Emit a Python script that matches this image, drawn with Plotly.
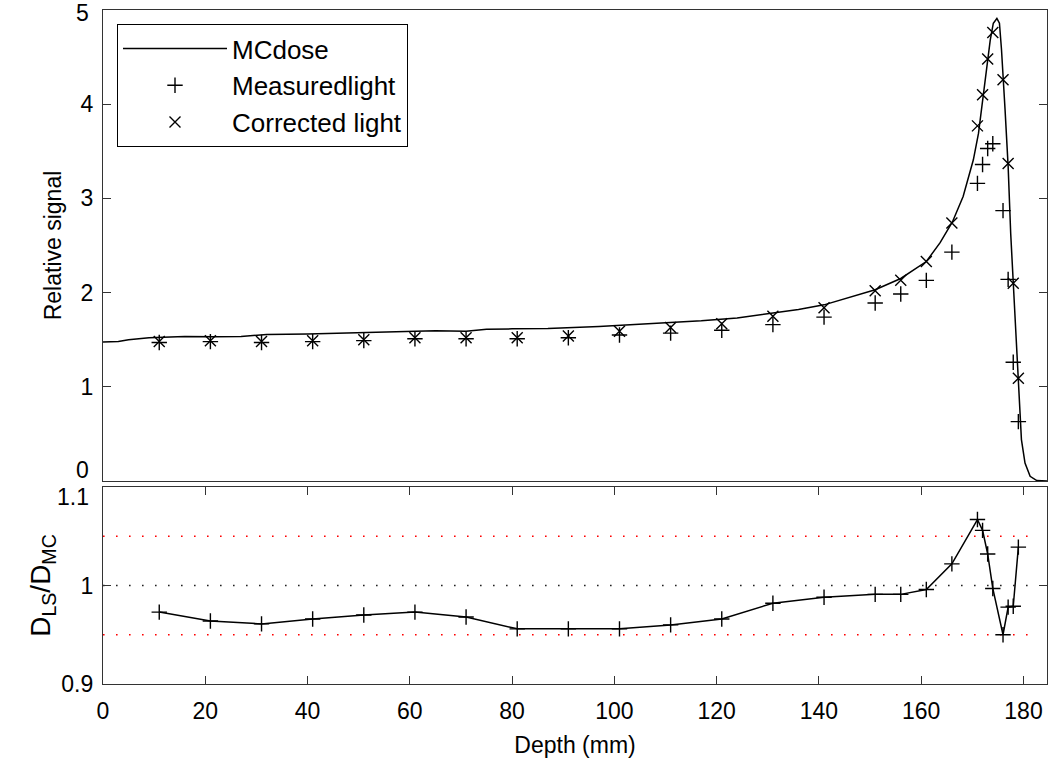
import plotly.graph_objects as go

# ---- data ----
mc_depth = [0, 3, 5, 9, 16, 22, 27, 32, 40, 45, 52, 58, 65, 71, 75, 80, 87, 97, 107, 117,
            124, 131, 136, 141, 146, 151, 156, 161, 163.7, 166.1, 168.2, 170.2, 171.2, 172.0,
            172.8, 173.5, 174.1, 174.8, 175.3, 175.7, 176.4, 177.0, 177.5, 178.0, 178.7, 179.2,
            179.6, 180.3, 181.3, 182.6, 184.6]
mc_dose = [1.476, 1.48, 1.50, 1.52, 1.535, 1.53, 1.535, 1.555, 1.56, 1.567, 1.578, 1.585, 1.595,
           1.59, 1.61, 1.615, 1.62, 1.64, 1.67, 1.70, 1.73, 1.78, 1.82, 1.87, 1.95, 2.03, 2.15,
           2.33, 2.53, 2.75, 3.02, 3.41, 3.69, 4.04, 4.40, 4.68, 4.86, 4.91, 4.86, 4.58, 3.94,
           3.34, 2.63, 2.10, 1.32, 0.79, 0.44, 0.19, 0.05, 0.005, 0.0]

depth = [11, 21, 31, 41, 51, 61, 71, 81, 91, 101, 111, 121, 131, 141, 151, 156, 161, 166,
         171, 172, 173, 174, 176, 177, 178, 179]
measured = [1.47, 1.48, 1.47, 1.48, 1.49, 1.51, 1.51, 1.51, 1.52, 1.55, 1.57, 1.60, 1.66, 1.74,
            1.89, 1.985, 2.13, 2.43, 3.16, 3.36, 3.53, 3.58, 2.87, 2.14, 1.26, 0.63]
corrected = [1.48, 1.49, 1.48, 1.49, 1.50, 1.52, 1.52, 1.52, 1.54, 1.59, 1.63, 1.67, 1.75, 1.84,
             2.02, 2.13, 2.33, 2.74, 3.77, 4.10, 4.48, 4.76, 4.26, 3.37, 2.10, 1.09]
ratio = [0.973, 0.964, 0.961, 0.966, 0.970, 0.973, 0.968, 0.956, 0.956, 0.956, 0.960, 0.966,
         0.982, 0.988, 0.991, 0.991, 0.996, 1.022, 1.067, 1.056, 1.032, 0.997, 0.950, 0.978,
         0.979, 1.039]

x_ticks = [0, 20, 40, 60, 80, 100, 120, 140, 160, 180]
top_inner_ticks = [1, 2, 3, 4]          # 0 and 5 sit on the frame; labelled below
bottom_inner_ticks = [0.9, 1.0]         # 1.1 sits on the frame; labelled below
bottom_tick_labels = ["0.9", "1"]
tolerance_levels = [0.95, 1.05]
unity_level = 1.0
x_range = [0, 184.6]

FONT = "Liberation Sans, Arial, sans-serif"
AX = "#333333"
TS = 23

fig = go.Figure()

fig.add_trace(go.Scatter(x=mc_depth, y=mc_dose, mode="lines", name="MCdose",
                         line=dict(color="black", width=1.5),
                         xaxis="x2", yaxis="y2"))
fig.add_trace(go.Scatter(x=depth, y=measured, mode="markers", name="Measuredlight",
                         marker=dict(symbol="cross-thin-open", size=11, color="black",
                                     line=dict(color="black", width=1.4)),
                         xaxis="x2", yaxis="y2"))
fig.add_trace(go.Scatter(x=depth, y=corrected, mode="markers", name="Corrected light",
                         marker=dict(symbol="x-thin-open", size=11, color="black",
                                     line=dict(color="black", width=1.4)),
                         xaxis="x2", yaxis="y2"))

# reference lines in lower panel
for lvl in tolerance_levels:
    fig.add_trace(go.Scatter(x=[x_range[0], 183], y=[lvl, lvl], mode="lines",
                             line=dict(color="red", width=1.6, dash="1.6px,11.4px"),
                             showlegend=False, hoverinfo="skip", xaxis="x", yaxis="y"))
fig.add_trace(go.Scatter(x=[x_range[0], 183], y=[unity_level, unity_level], mode="lines",
                         line=dict(color="#222222", width=1.6, dash="1.6px,11.4px"),
                         showlegend=False, hoverinfo="skip", xaxis="x", yaxis="y"))

fig.add_trace(go.Scatter(x=depth, y=ratio, mode="lines+markers", showlegend=False,
                         line=dict(color="black", width=1.5),
                         marker=dict(symbol="cross-thin-open", size=11, color="black",
                                     line=dict(color="black", width=1.4)),
                         xaxis="x", yaxis="y"))

bot_dom = [0, 197 / 674]
top_dom = [203 / 674, 1]

# extreme tick labels nudged inward (as in the reference)
edge_labels = [("0", 0, "y2", 11), ("5", 5, "y2", -3), ("1.1", 1.1, "y", -10)]
for txt, val, ref, shift in edge_labels:
    fig.add_annotation(text=txt, x=0, xref="paper", xanchor="right", xshift=-12,
                       y=val, yref=ref, yanchor="middle", yshift=shift, showarrow=False,
                       font=dict(family=FONT, size=TS, color="black"))

fig.update_layout(
    width=1050, height=761,
    margin=dict(l=103, r=3, t=10, b=77, autoexpand=False),
    paper_bgcolor="white", plot_bgcolor="white",
    font=dict(family=FONT, size=TS, color="black"),
    showlegend=True,
    legend=dict(x=(117 - 103) / 944, y=(684 - 24) / 674, xanchor="left", yanchor="top",
                bgcolor="white", bordercolor="black", borderwidth=1,
                font=dict(family=FONT, size=26, color="black"),
                tracegroupgap=0, itemwidth=104),
    xaxis=dict(domain=[0, 1], anchor="y", range=x_range, tickvals=x_ticks,
               ticks="inside", ticklen=8, tickcolor=AX, showline=True, linecolor=AX,
               linewidth=1.3, mirror="ticks", showgrid=False, zeroline=False,
               automargin=False, tickfont=dict(size=TS), ticklabeloverflow="allow",
               ticklabelstandoff=6,
               title=dict(text="Depth (mm)", font=dict(size=TS), standoff=14)),
    yaxis=dict(domain=bot_dom, anchor="x", range=[0.9, 1.1], tickvals=bottom_inner_ticks,
               ticktext=bottom_tick_labels,
               ticks="inside", ticklen=8, tickcolor=AX, showline=True, linecolor=AX,
               linewidth=1.3, mirror="ticks", showgrid=False, zeroline=False,
               automargin=False, tickfont=dict(size=TS), ticklabeloverflow="allow",
               ticklabelstandoff=4,
               title=dict(text="D<sub>LS</sub>/D<sub>MC</sub>", font=dict(size=28), standoff=2)),
    xaxis2=dict(domain=[0, 1], anchor="y2", range=x_range, matches="x",
                showticklabels=False, ticks="", showline=True, linecolor=AX,
                linewidth=1.3, mirror=True, showgrid=False, zeroline=False,
                automargin=False),
    yaxis2=dict(domain=top_dom, anchor="x2", range=[0, 5], tickvals=top_inner_ticks,
                ticks="inside", ticklen=8, tickcolor=AX, showline=True, linecolor=AX,
                linewidth=1.3, mirror="ticks", showgrid=False, zeroline=False,
                automargin=False, tickfont=dict(size=TS), ticklabeloverflow="allow",
                ticklabelstandoff=4,
                title=dict(text="Relative signal", font=dict(size=TS), standoff=12)),
)

# remove the browser's default 8px body margin so the 1050x761 figure fills the window
fig.write_html("out.html", config={"displayModeBar": False},
               post_script="document.body.style.margin='0';document.body.style.overflow='hidden';")
